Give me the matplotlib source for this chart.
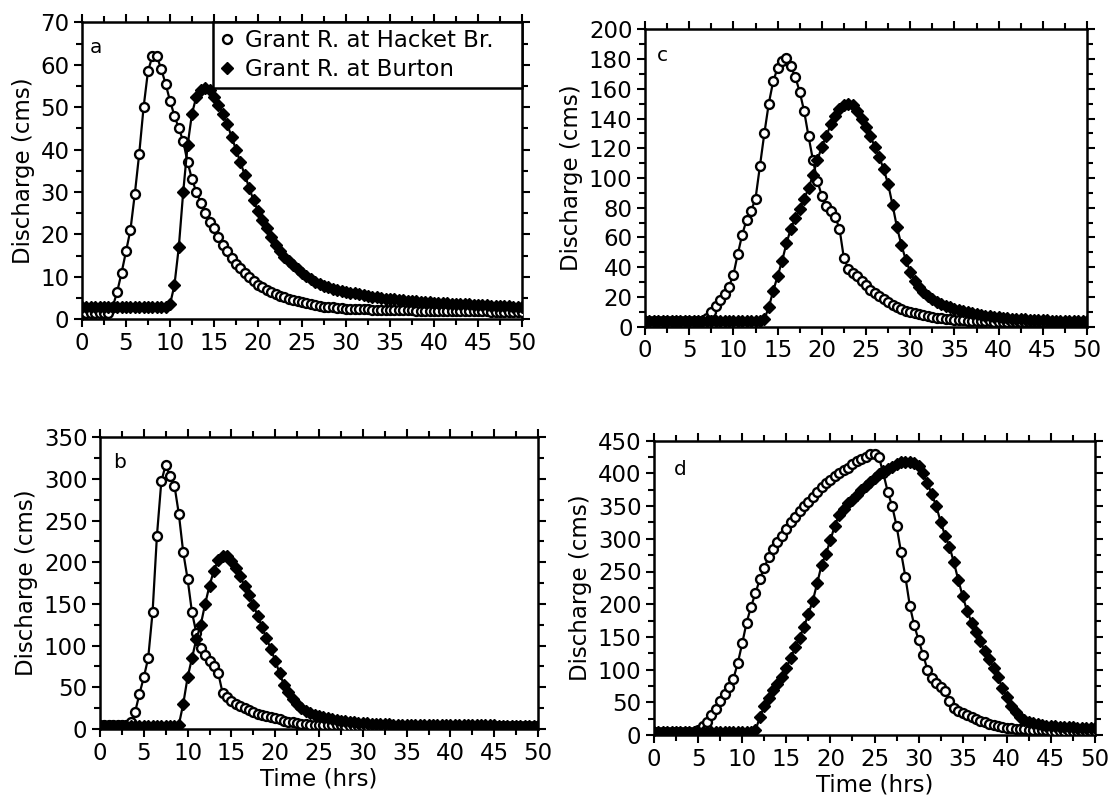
import numpy as np
import matplotlib
matplotlib.use("Agg")
import matplotlib.pyplot as plt
from matplotlib.lines import Line2D
from matplotlib.ticker import MultipleLocator

# ---------------- data (discharge in cms, sampled every 0.5 h) ----------------
DT = 0.5

hacket_a = [1.5, 1.5, 1.5, 1.5, 1.5, 1.5, 1.5,
            3, 6.5, 11, 16, 21, 29.5, 39, 50, 58.5, 62,
            62, 59, 55.5, 51.5, 48, 45, 42, 37, 33, 30,
            27.5, 25, 23, 21.5, 19.5, 17.5, 16, 14.5, 13, 12,
            11, 10, 9, 8.2, 7.5, 7, 6.5, 6, 5.6, 5.2,
            4.8, 4.5, 4.2, 4, 3.8, 3.5, 3.3, 3.1, 3.0, 2.9,
            2.8, 2.7, 2.6, 2.5,
            2.5, 2.45, 2.4, 2.4, 2.35, 2.3, 2.3, 2.25, 2.2, 2.2,
            2.2, 2.15, 2.1, 2.1, 2.1, 2.05, 2.0, 2.0, 2.0, 2.0,
            2.0, 2.0, 1.95, 1.95, 1.9, 1.9, 1.9, 1.9, 1.85, 1.85,
            1.85, 1.85, 1.8, 1.8, 1.8, 1.8, 1.8, 1.8, 1.8, 1.8]
burton_a = [3] * 20 + [
            3.5, 8, 17, 30, 41, 48.5, 52.5, 54, 54.5, 54,
            52.5, 50.5, 48.5, 46, 43, 40, 37, 34, 31, 28,
            25.5, 23.5, 21.5, 19.5, 17.5, 16, 14.8, 13.8, 12.8, 11.9,
            11, 10.2, 9.5, 8.9, 8.4, 7.9, 7.5, 7.2, 6.9, 6.7, 6.5,
            6.3, 6.1, 5.9, 5.7, 5.5, 5.35, 5.2, 5.05, 4.9, 4.8,
            4.7, 4.6, 4.5, 4.4, 4.3, 4.2, 4.1, 4.05, 4.0, 3.9,
            3.85, 3.8, 3.75, 3.7, 3.65, 3.6, 3.55, 3.5, 3.45, 3.4,
            3.35, 3.3, 3.25, 3.2, 3.15, 3.1, 3.05, 3.0, 3.0, 3.0]

hacket_b = [5] * 7 + [
            8, 20, 42, 62, 85, 140, 232, 297, 317, 303,
            292, 258, 212, 180, 140, 115, 97, 89, 82, 76,
            67, 43, 38, 34, 30.5, 27, 25, 22.5, 20.5, 18.5,
            17, 15.5, 14, 12.8, 11.5, 10, 8.8, 7.8, 7, 6.3,
            5.8, 5.3, 5, 4.7,
            4.6, 4.5, 4.4, 4.3, 4.2, 4.1, 4.0, 3.95, 3.9, 3.85,
            3.8, 3.75, 3.7, 3.65, 3.6, 3.6, 3.55, 3.5, 3.5, 3.5,
            3.45, 3.4, 3.4, 3.4, 3.35, 3.3, 3.3, 3.3, 3.3, 3.3] + [3.3] * 20
burton_b = [4] * 18 + [
            5, 30, 62, 85, 108, 125, 150, 172, 190, 203,
            208, 208, 202, 193, 183, 172, 161, 149, 136, 122,
            109, 96, 82, 67, 53, 44, 36, 30, 25, 21.5,
            19, 17, 15.5, 14, 12.8, 11.7, 10.8, 10, 9.2, 8.5,
            7.9, 7.4, 7,
            6.7, 6.4, 6.1, 5.9, 5.7, 5.5, 5.3, 5.2, 5.1, 5.0,
            4.95, 4.9, 4.85, 4.8, 4.75, 4.7, 4.65, 4.6, 4.55, 4.5,
            4.5, 4.45, 4.4, 4.4, 4.35, 4.3, 4.3, 4.25, 4.2, 4.2,
            4.15, 4.1, 4.1, 4.05, 4.0, 4.0, 4.0, 4.0, 4.0, 4.0]

hacket_c = [4] * 14 + [
            6, 10, 14, 18, 22, 27, 35, 49, 62, 72,
            78, 86, 108, 130, 150, 165, 174, 179, 181, 175,
            168, 158, 145, 128, 112, 98, 88, 81, 78, 74,
            66, 46, 39, 36, 34, 31, 28, 25, 22.5, 20.5,
            18.5, 16.5, 14.8, 13.3, 12, 10.8, 9.8,
            9.0, 8.3, 7.6, 7.0, 6.5, 6.0, 5.6, 5.2, 4.9, 4.6,
            4.4, 4.2, 4.0, 3.9, 3.8, 3.7, 3.6, 3.5, 3.45, 3.4,
            3.35, 3.3, 3.3, 3.25, 3.2, 3.2, 3.15, 3.1, 3.1, 3.05,
            3.0, 3.0, 3.0, 3.0, 3.0, 3.0, 3.0, 3.0, 3.0, 3.0]
burton_c = [3.5] * 27 + [
            5, 13, 24, 34, 44, 56, 66, 73, 79, 86,
            93, 102, 112, 121, 128, 136, 142, 146.5, 149, 150,
            149, 145, 140, 134, 128, 121, 114, 106, 96, 82,
            67, 55, 45, 37, 31, 26.5, 23, 20.5, 18.5, 16.8,
            15.3, 14, 13, 12, 11.2, 10.4, 9.7, 9.1, 8.5, 8.0,
            7.5, 7.1, 6.7, 6.3,
            6.0, 5.8, 5.5, 5.3, 5.1, 4.9, 4.7, 4.6, 4.4, 4.3,
            4.2, 4.1, 4.0, 3.9, 3.8, 3.7, 3.6, 3.6, 3.5, 3.5]

hacket_d = [5] * 10 + [
            7, 13, 20, 30, 40, 52, 63, 74, 86, 110,
            140, 172, 196, 217, 238, 256, 272, 285, 295, 305,
            315, 325, 334, 342, 350, 357, 364, 372, 379, 385,
            390, 396, 401, 405, 409, 414, 419, 422, 425, 429,
            430, 425, 400, 372, 350, 320, 280, 242, 198, 168,
            145, 123, 100, 87, 79, 74, 68, 52, 41, 36,
            34, 31, 28, 25, 22, 20, 17.5, 15.5, 14, 12.5,
            11,
            10, 9.5, 9, 8.5, 8, 7.8, 7.5, 7.3, 7, 6.8,
            6.6, 6.5, 6.4, 6.3, 6.2, 6.1, 6.0, 6.0, 6.0, 6.0]
burton_d = [5] * 23 + [
            7, 27, 44, 57, 69, 78, 89, 103, 117, 134,
            149, 165, 185, 205, 232, 260, 277, 298, 320, 337,
            346, 354, 360, 367, 374, 380, 387, 393, 399, 403,
            407, 410, 414, 417, 418, 418, 416, 412, 400, 385,
            368, 350, 326, 305, 288, 264, 237, 212, 190, 172,
            157, 144, 128, 116, 103, 88, 72, 58, 45, 35,
            27, 23, 20, 18, 16.5, 15.5, 14.5, 13.8, 13.2, 12.7,
            12.3, 12, 11.6, 11.3, 11, 10.7, 10.4, 10]

panel_letters = ["a", "b", "c", "d"]
y_max = [70, 350, 200, 450]
y_major = [10, 50, 20, 50]
y_minor = [5, 25, 10, 25]
series_names = ["Grant R. at Hacket Br.", "Grant R. at Burton"]
x_label = "Time (hrs)"
y_label = "Discharge (cms)"

# ---------------- figure ----------------
W, H = 1111, 805
fig = plt.figure(figsize=(W / 100, H / 100), dpi=100)
plt.rcParams["font.family"] = ["DejaVu Sans"]

def frac(x0, x1, y0, y1):
    return [x0 / W, 1 - y1 / H, (x1 - x0) / W, (y1 - y0) / H]

rects = {
    "a": frac(82, 522, 22.3, 319.3),
    "b": frac(100, 538, 437.3, 729),
    "c": frac(645, 1087, 29.3, 326.7),
    "d": frac(654, 1095, 440.7, 735),
}
letter_pos = {"a": (8, 16), "b": (13, 16), "c": (12, 17), "d": (20, 19)}

data = {
    "a": (hacket_a, burton_a),
    "b": (hacket_b, burton_b),
    "c": (hacket_c, burton_c),
    "d": (hacket_d, burton_d),
}

FS = 16.5
MS_O, MEW_O = 6.4, 1.7
MS_D = 6.6
LW = 1.6
for i, key in enumerate(panel_letters):
    ax = fig.add_axes(rects[key])
    h, b = data[key]
    th = DT * np.arange(len(h))
    tb = DT * np.arange(len(b))
    ax.plot(th, h, "-o", color="k", lw=LW, ms=MS_O, mfc="white", mec="k",
            mew=MEW_O, zorder=3)
    ax.plot(tb, b, "-D", color="k", lw=LW, ms=MS_D, mfc="k", mec="k",
            mew=1.0, zorder=4)
    ax.set_xlim(0, 50)
    ax.set_ylim(0, y_max[i])
    ax.xaxis.set_major_locator(MultipleLocator(5))
    ax.xaxis.set_minor_locator(MultipleLocator(2.5))
    ax.yaxis.set_major_locator(MultipleLocator(y_major[i]))
    ax.yaxis.set_minor_locator(MultipleLocator(y_minor[i]))
    ax.tick_params(which="both", direction="out", top=True, right=True,
                   width=1.5, colors="k", labelsize=FS)
    ax.tick_params(which="major", length=6, pad=3)
    ax.tick_params(which="minor", length=4)
    for sp in ax.spines.values():
        sp.set_linewidth(1.8)
    ax.set_ylabel(y_label, fontsize=FS, labelpad=4)
    if key in ("b", "d"):
        ax.set_xlabel(x_label, fontsize=FS, labelpad=2)
    dx, dy = letter_pos[key]
    ax.annotate(key, xy=(0, 1), xycoords="axes fraction",
                xytext=(dx * 0.72, -dy * 0.72), textcoords="offset points",
                ha="left", va="top", fontsize=14.5)
    if key == "a":
        handles = [
            Line2D([], [], ls="none", marker="o", ms=MS_O, mfc="white",
                   mec="k", mew=MEW_O),
            Line2D([], [], ls="none", marker="D", ms=MS_D, mfc="k", mec="k"),
        ]
        leg = ax.legend(handles, series_names, loc="upper left",
                        bbox_to_anchor=(0.298, 0.0, 0.702, 1.0), mode="expand",
                        borderaxespad=0, fontsize=FS, fancybox=False,
                        framealpha=1, edgecolor="k", handlelength=0.6,
                        handletextpad=0.5, borderpad=0.3, labelspacing=0.25)
        leg.get_frame().set_linewidth(1.8)

fig.savefig("out.png", dpi=100, facecolor="white")
